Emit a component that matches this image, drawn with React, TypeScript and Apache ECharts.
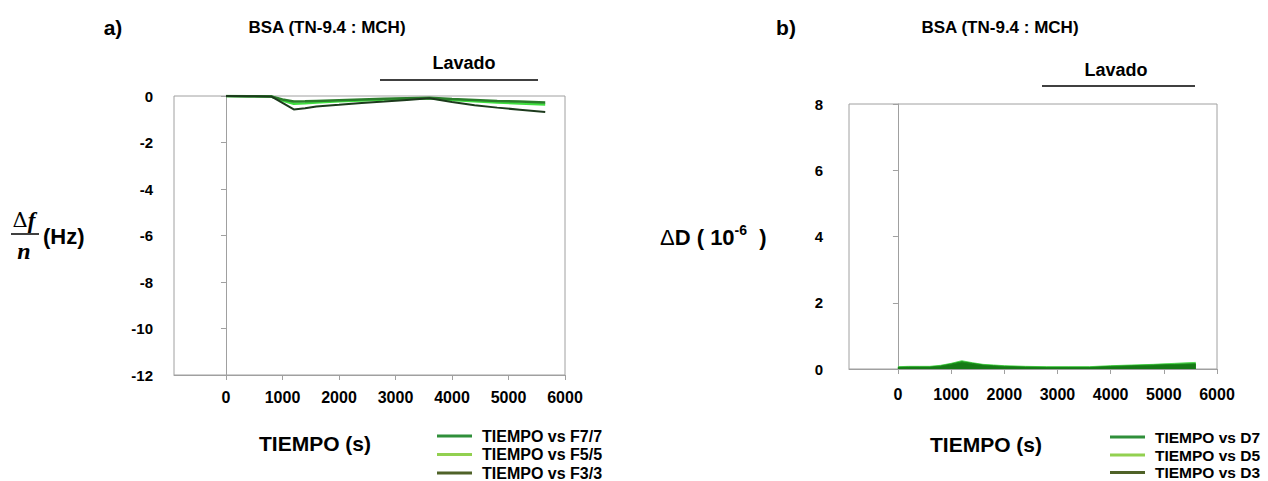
import React, { useEffect, useRef } from "react";
import * as echarts from "echarts";

// ---- data ----
const TIME_F = [0, 400, 800, 1000, 1200, 1400, 1600, 2000, 2400, 2800, 3200, 3600, 4000, 4400, 4800, 5200, 5650];
const F7 = [0, -0.01, -0.02, -0.15, -0.24, -0.23, -0.21, -0.18, -0.15, -0.12, -0.1, -0.08, -0.13, -0.17, -0.21, -0.24, -0.28];
const F5 = [0, -0.01, -0.02, -0.2, -0.33, -0.31, -0.28, -0.23, -0.19, -0.15, -0.12, -0.1, -0.17, -0.23, -0.28, -0.32, -0.37];
const F3 = [0, -0.01, -0.02, -0.3, -0.58, -0.53, -0.45, -0.38, -0.3, -0.24, -0.17, -0.1, -0.26, -0.4, -0.5, -0.59, -0.69];

const TIME_D = [0, 200, 400, 600, 800, 1000, 1200, 1400, 1600, 1800, 2000, 2400, 2800, 3200, 3600, 4000, 4400, 4800, 5200, 5600];
const D7 = [0.05, 0.06, 0.06, 0.06, 0.09, 0.15, 0.22, 0.17, 0.12, 0.1, 0.08, 0.06, 0.05, 0.05, 0.05, 0.08, 0.1, 0.12, 0.14, 0.16];
const D5 = [0.07, 0.08, 0.08, 0.08, 0.11, 0.17, 0.25, 0.19, 0.14, 0.12, 0.1, 0.08, 0.07, 0.07, 0.07, 0.1, 0.12, 0.14, 0.17, 0.2];
const D3 = [0.03, 0.04, 0.04, 0.04, 0.06, 0.11, 0.17, 0.13, 0.09, 0.07, 0.05, 0.04, 0.03, 0.03, 0.03, 0.05, 0.07, 0.09, 0.11, 0.13];

const X_TICKS = [0, 1000, 2000, 3000, 4000, 5000, 6000];
const NAMES_F = ["TIEMPO vs F7/7", "TIEMPO vs F5/5", "TIEMPO vs F3/3"];
const NAMES_D = ["TIEMPO vs D7", "TIEMPO vs D5", "TIEMPO vs D3"];
const LEGEND_COLORS = ["#2f8f3a", "#92d050", "#4f6228"];

const SANS = "'Liberation Sans', Arial, sans-serif";

function pairs(xs: number[], ys: number[]) {
  return xs.map((x, i) => [x, ys[i]]);
}

function xAxisFor(gridIndex: number, margin: number) {
  return {
    type: "value",
    gridIndex,
    min: -920,
    max: 6000,
    axisLine: { show: true, onZero: false, lineStyle: { color: "#a0a0a0" } },
    axisTick: { show: true, length: 5, lineStyle: { color: "#a0a0a0" }, customValues: X_TICKS },
    axisLabel: {
      customValues: X_TICKS,
      formatter: (v: number) => String(v),
      margin,
      color: "#000",
      fontWeight: "bold",
      fontSize: 16,
      fontFamily: SANS,
    },
    splitLine: { show: false },
  };
}

function yAxisFor(gridIndex: number, min: number, max: number, margin: number) {
  return {
    type: "value",
    gridIndex,
    min,
    max,
    interval: 2,
    axisLine: { show: true, lineStyle: { color: "#a0a0a0" } },
    axisTick: { show: true, length: 5, lineStyle: { color: "#a0a0a0" } },
    axisLabel: {
      formatter: (v: number) => String(v),
      margin, color: "#000", fontWeight: "bold", fontSize: 15, fontFamily: SANS,
    },
    splitLine: { show: false },
  };
}

// one legend component per entry so the rows never wrap
function legendRows(names: string[], left: number, centers: number[], size: number) {
  return names.map((n, i) => ({
    left,
    top: centers[i] - 7,
    padding: 0,
    orient: "vertical",
    icon: "rect",
    itemWidth: 35,
    itemHeight: 3,
    textStyle: {
      color: "#000",
      fontWeight: "bold",
      fontSize: size,
      fontFamily: SANS,
      lineHeight: 14,
      padding: [0, 0, 0, 5],
    },
    data: [{ name: n, itemStyle: { color: LEGEND_COLORS[i] }, lineStyle: { color: LEGEND_COLORS[i] } }],
  }));
}

function txt(text: string, x: number, y: number, size: number, align = "center") {
  return {
    type: "text",
    x,
    y,
    style: {
      text,
      fill: "#000",
      fontSize: size,
      fontWeight: "bold",
      fontFamily: SANS,
      align,
      verticalAlign: "middle",
    },
  };
}

export default function App() {
  const ref = useRef<HTMLDivElement>(null);

  useEffect(() => {
    if (!ref.current) return;
    const chart = echarts.init(ref.current, undefined, { renderer: "svg" });
    const option: any = {
      animation: false,
      backgroundColor: "#fff",
      grid: [
        { left: 174, top: 96, width: 391, height: 279, show: true, borderColor: "#a0a0a0", borderWidth: 1 },
        { left: 849, top: 104, width: 368, height: 265, show: true, borderColor: "#a0a0a0", borderWidth: 1 },
      ],
      xAxis: [xAxisFor(0, 14), xAxisFor(1, 17)],
      yAxis: [yAxisFor(0, -12, 0, 21), yAxisFor(1, 0, 8, 26)],
      legend: [
        ...legendRows(NAMES_F, 437, [435, 453.5, 472], 16),
        ...legendRows(NAMES_D, 1110, [436, 454, 471.5], 15.5),
      ],
      series: [
        {
          name: NAMES_F[0], type: "line", xAxisIndex: 0, yAxisIndex: 0, showSymbol: false,
          data: pairs(TIME_F, F7), lineStyle: { color: "#2a7d2a", width: 2.5 }, itemStyle: { color: "#2a7d2a" }, z: 3,
        },
        {
          name: NAMES_F[1], type: "line", xAxisIndex: 0, yAxisIndex: 0, showSymbol: false,
          data: pairs(TIME_F, F5), lineStyle: { color: "#3fe03f", width: 2.5 }, itemStyle: { color: "#3fe03f" }, z: 2,
        },
        {
          name: NAMES_F[2], type: "line", xAxisIndex: 0, yAxisIndex: 0, showSymbol: false,
          data: pairs(TIME_F, F3), lineStyle: { color: "#1c3a1c", width: 2 }, itemStyle: { color: "#1c3a1c" }, z: 4,
        },
        {
          name: NAMES_D[1], type: "line", xAxisIndex: 1, yAxisIndex: 1, showSymbol: false,
          data: pairs(TIME_D, D5), lineStyle: { color: "#55d855", width: 1 }, itemStyle: { color: "#55d855" },
          areaStyle: { color: "#55d855", opacity: 1 }, z: 2,
        },
        {
          name: NAMES_D[0], type: "line", xAxisIndex: 1, yAxisIndex: 1, showSymbol: false,
          data: pairs(TIME_D, D7), lineStyle: { color: "#1a8c1a", width: 1 }, itemStyle: { color: "#1a8c1a" },
          areaStyle: { color: "#1a8c1a", opacity: 1 }, z: 3,
        },
        {
          name: NAMES_D[2], type: "line", xAxisIndex: 1, yAxisIndex: 1, showSymbol: false,
          data: pairs(TIME_D, D3), lineStyle: { color: "#167a16", width: 1 }, itemStyle: { color: "#167a16" },
          areaStyle: { color: "#167a16", opacity: 1 }, z: 4,
        },
      ],
      graphic: [
        txt("a)", 113, 27, 21),
        txt("BSA (TN-9.4 : MCH)", 327, 27, 17),
        txt("Lavado", 464, 63, 18),
        { type: "line", shape: { x1: 380, y1: 80, x2: 538, y2: 80 }, style: { stroke: "#000", lineWidth: 1.5 } },
        txt("b)", 786, 27, 21),
        txt("BSA (TN-9.4 : MCH)", 1000, 27, 17),
        txt("Lavado", 1116, 70, 18),
        { type: "line", shape: { x1: 1042, y1: 86, x2: 1195, y2: 86 }, style: { stroke: "#000", lineWidth: 1.5 } },
        txt("TIEMPO (s)", 315, 443, 21),
        txt("TIEMPO (s)", 986, 444, 21),
        // y axis name a: Δf / n (Hz)
        {
          type: "text", x: 24, y: 220,
          style: {
            text: "{u|Δ}{i|f}",
            align: "center", verticalAlign: "middle",
            rich: {
              u: { fontSize: 21, fontFamily: "'DejaVu Serif', serif", fill: "#000" },
              i: { fontSize: 23, fontFamily: "'Liberation Serif', serif", fontStyle: "italic", fontWeight: "bold", fill: "#000" },
            },
          },
        },
        { type: "line", shape: { x1: 11, y1: 234, x2: 39, y2: 234 }, style: { stroke: "#000", lineWidth: 1.5 } },
        {
          type: "text", x: 24, y: 251,
          style: {
            text: "n", align: "center", verticalAlign: "middle",
            fontSize: 24, fontFamily: "'Liberation Serif', serif", fontStyle: "italic", fontWeight: "bold", fill: "#000",
          },
        },
        txt("(Hz)", 43, 236, 22, "left"),
        // y axis name b: ΔD ( 10^-6 )
        {
          type: "text", x: 660, y: 237,
          style: {
            text: "{d|Δ}{b|D ( 10}{s|-6}{b|  )}",
            align: "left", verticalAlign: "middle",
            rich: {
              d: { fontSize: 22, fontFamily: SANS, fill: "#000" },
              b: { fontSize: 22, fontFamily: SANS, fontWeight: "bold", fill: "#000" },
              s: { fontSize: 14, fontFamily: SANS, fontWeight: "bold", fill: "#000", verticalAlign: "top", padding: [0, 0, 14, 0] },
            },
          },
        },
      ],
    };
    chart.setOption(option);
    return () => chart.dispose();
  }, []);

  return (
    <div
      ref={ref}
      style={{ position: "fixed", left: 0, top: 0, width: 1268, height: 481, background: "#fff" }}
    />
  );
}
